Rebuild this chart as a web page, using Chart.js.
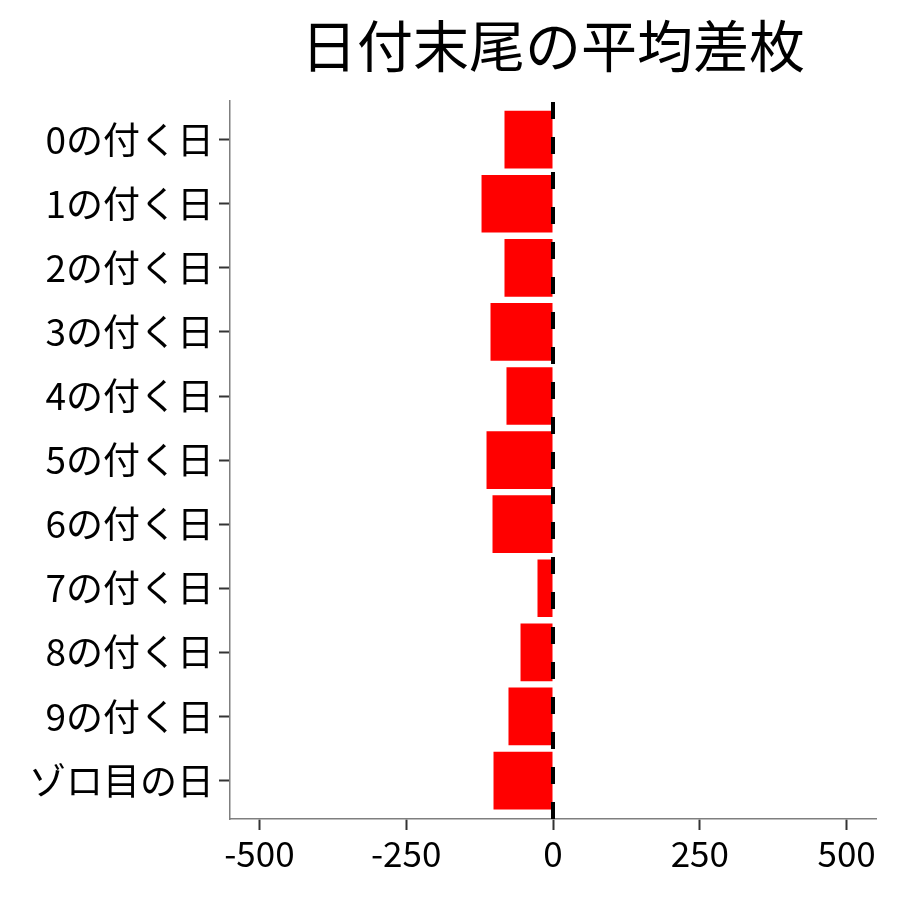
<!DOCTYPE html>
<html>
<head>
<meta charset="utf-8">
<script src="https://cdn.jsdelivr.net/npm/chart.js@4.4.1/dist/chart.umd.min.js"></script>
<style>
  html, body { margin: 0; padding: 0; background: #fff; }
  #wrap { width: 900px; height: 900px; }
</style>
</head>
<body>
<div id="wrap"><canvas id="diffChart"></canvas></div>
<script>
// values
const categories = ['0の付く日', '1の付く日', '2の付く日', '3の付く日', '4の付く日', '5の付く日',
                    '6の付く日', '7の付く日', '8の付く日', '9の付く日', 'ゾロ目の日'];
const avgDiff = [-82.6, -121.7, -82.6, -106.4, -79.2, -113.2, -103, -26.4, -55.3, -75.8, -101.3];
const xTickValues = [-500, -250, 0, 250, 500];

const FONT = '"Noto Sans CJK JP", "Noto Sans", sans-serif';

// dashed reference line at zero
const zeroLine = {
  id: 'zeroLine',
  afterDatasetsDraw(chart) {
    const { ctx, chartArea, scales } = chart;
    const x = scales.x.getPixelForValue(0);
    ctx.save();
    ctx.strokeStyle = '#000';
    ctx.lineWidth = 4;
    ctx.setLineDash([17, 18]);
    ctx.beginPath();
    ctx.moveTo(x, chartArea.bottom);
    ctx.lineTo(x, chartArea.top);
    ctx.stroke();
    ctx.restore();
  }
};

const ctx = document.getElementById('diffChart').getContext('2d');
new Chart(ctx, {
  type: 'bar',
  data: {
    datasets: [{
      data: avgDiff.map((v, i) => ({ x: v, y: i })),
      backgroundColor: '#ff0000',
      borderWidth: 0,
      barPercentage: 0.9,
      categoryPercentage: 1
    }]
  },
  options: {
    indexAxis: 'y',
    responsive: true,
    maintainAspectRatio: false,
    animation: false,
    layout: { padding: { left: 0, right: 24, top: 0, bottom: 0 } },
    plugins: {
      legend: { display: false },
      tooltip: { enabled: false },
      title: {
        display: true,
        text: '日付末尾の平均差枚',
        fullSize: false,
        color: '#000',
        font: { family: FONT, size: 56, weight: 'normal' },
        padding: { top: 12, bottom: 22 }
      }
    },
    scales: {
      x: {
        type: 'linear',
        min: -550,
        max: 550,
        afterBuildTicks: (scale) => { scale.ticks = xTickValues.map(v => ({ value: v })); },
        afterFit: (scale) => { scale.height = 81; },
        grid: { drawOnChartArea: false, drawTicks: true, tickLength: 11, tickColor: '#333', tickWidth: 2 },
        border: { display: true, color: '#7f7f7f', width: 1.5 },
        ticks: { color: '#000', font: { family: FONT, size: 35 }, padding: 3, maxRotation: 0 }
      },
      y: {
        type: 'linear',
        reverse: true,
        offset: false,
        min: -0.6,
        max: 10.6,
        afterBuildTicks: (scale) => { scale.ticks = categories.map((c, i) => ({ value: i })); },
        afterFit: (scale) => { scale.width = 230; },
        grid: { offset: false, drawOnChartArea: false, drawTicks: true, tickLength: 11, tickColor: '#333', tickWidth: 2 },
        border: { display: true, color: '#7f7f7f', width: 1.5 },
        ticks: {
          color: '#000',
          font: { family: FONT, size: 37 },
          padding: 5,
          callback: (v) => categories[v]
        }
      }
    }
  },
  plugins: [zeroLine]
});
</script>
</body>
</html>
